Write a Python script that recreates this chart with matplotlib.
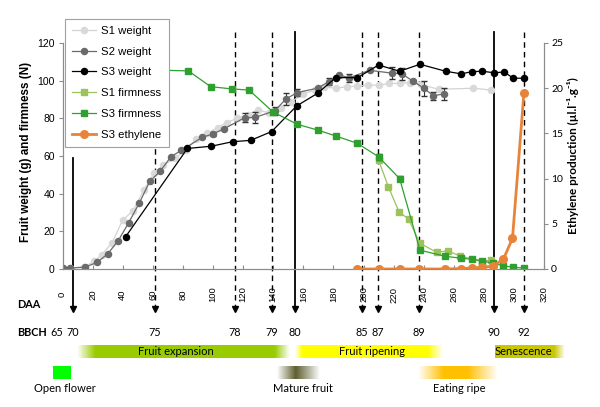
import numpy as np
import matplotlib
matplotlib.use('Agg')
import matplotlib.pyplot as plt
from matplotlib.colors import to_rgb

plt.rcParams['font.family'] = ['Liberation Sans', 'DejaVu Sans']
CAL = ['Lato', 'DejaVu Sans']

# ---- data ----
s1w_daa = [0, 5, 14, 21, 26, 33, 40, 47, 54, 61, 67, 75, 82, 89, 96, 103, 109, 116, 123, 130,
           137, 145, 152, 160, 168, 174, 182, 189, 196, 203, 210, 217, 224, 231, 238, 250, 273, 285]
s1w_val = [0.5, 0.5, 1, 4, 7.5, 14, 26, 31, 42, 51, 55, 59, 63, 69, 72, 75, 77.7, 80, 82, 84.4,
           83, 85.7, 88.8, 93, 95, 96.5, 96, 96.8, 97.2, 97.7, 97.5, 98.6, 98.5, 99, 98, 95.4, 96, 95]

s2w_daa = [0, 5, 15, 23, 30, 37, 44, 51, 58, 65, 72, 79, 93, 100, 107, 121, 128, 141, 148.5, 156,
           169.5, 177, 184, 190.5, 204, 219, 225.5, 233, 240, 246.5, 253.5]
s2w_val = [0.5, 0.5, 1, 3.5, 8, 15, 24.6, 35, 46.5, 52, 59.6, 63, 70, 71.7, 74.3, 80.3, 80.5, 84,
           90.3, 93.7, 96, 99.5, 103, 101.5, 105.5, 104, 103.6, 99.7, 96, 92, 93]
s2w_err = [0, 0, 0, 0, 0, 0, 0, 0, 0, 0, 0, 0, 0, 1, 0, 2.5, 3, 2, 3, 2,
           0, 2, 0, 2, 0, 3, 3, 0, 4, 2, 3]

s3w_daa = [42, 83, 99, 113, 125, 139, 155.6, 169.5, 181.5, 196, 210, 224, 237.5, 254.6, 265,
           272, 279, 286.7, 293.5, 299.5, 306.6]
s3w_val = [17.2, 64, 65.2, 67.6, 68.3, 73, 86.6, 93.3, 101.6, 101.6, 108.3, 105, 108.7, 105,
           103.6, 104.8, 105, 104.2, 104.6, 101.3, 101.3]

s1f_daa = [210, 216.5, 223.6, 230, 237.5, 248.6, 256, 264, 278.5, 285]
s1f_val = [57.9, 43.7, 30.4, 26.4, 13.6, 8.9, 9.6, 7, 3.9, 4.8]

s3f_daa = [42, 83.6, 98.5, 112.8, 124, 139.7, 156, 169.5, 181.7, 196, 210, 224, 237.5, 254,
           265, 272, 279, 286, 293, 299.5, 306.7]
s3f_val = [106, 105.2, 96.8, 95.6, 95, 83.5, 76.8, 73.8, 70.6, 66.7, 59.6, 48, 10, 6.8,
           5.7, 5.2, 4.4, 3.0, 1.7, 0.9, 0.5]
s3f_err = [0, 0, 0, 0, 0, 0, 0, 0, 0, 0, 1.5, 1.5, 0, 0, 0, 0, 0, 0, 0, 0, 0]

eth_daa = [196, 210, 224, 237, 254, 265, 272, 279, 286, 293, 299, 306.6]
eth_val = [0, 0, 0, 0, 0, 0.05, 0.1, 0.2, 0.3, 1.1, 3.4, 19.5]

# BBCH stages (DAA where the arrows are)
stage_daa = [7, 61.5, 114.6, 139, 154.5, 198.8, 209.8, 237, 286.7, 306.6]
stage_bbch = ['70', '75', '78', '79', '80', '85', '87', '89', '90', '92']
stage_solid = [True, False, False, False, True, False, False, False, True, False]

# developmental phases (DAA range, fade in/out)
phase_names = ['Fruit expansion', 'Fruit ripening', 'Senescence']
phase_range = [(9.6, 151), (154.5, 252.8), (287.4, 333.9)]
phase_fade = [(12, 10), (5, 10), (0, 7)]
phase_colors = ['#99cc00', '#ffff00', '#c8c800']
phase_text = [75.5, 205.6, 306]

event_names = ['Open flower', 'Mature fruit', 'Eating ripe']
event_range = [(-6.3, 5), (142.5, 171), (236, 288.7)]
event_fade = [(0, 0), (12.5, 16), (17, 20)]
event_colors = ['#00ff00', '#5e5e30', '#ffc000']
event_text = [1.7, 160, 263.5]


def gradient_bar(ax, x0, x1, y0, y1, color, fade_in, fade_out):
    xs = np.linspace(x0, x1, 300)
    a = np.ones_like(xs)
    if fade_in > 0:
        a = np.minimum(a, (xs - x0) / fade_in)
    if fade_out > 0:
        a = np.minimum(a, (x1 - xs) / fade_out)
    img = np.zeros((1, 300, 4))
    img[..., :3] = to_rgb(color)
    img[..., 3] = np.clip(a, 0, 1)
    ax.imshow(img, extent=[x0, x1, y0, y1], aspect='auto', interpolation='nearest',
              clip_on=False, zorder=1)


fig = plt.figure(figsize=(6, 4.07), dpi=100)
ax = fig.add_axes([62.5 / 600, (407 - 269) / 407, 481.6 / 600, 226 / 407])
ax2 = ax.twinx()

grey = '#8c8c8c'

# vertical stage lines with arrows
for d, solid in zip(stage_daa, stage_solid):
    top = 59 if d < 20 else 125.9
    ax.plot([d, d], [top, -19.5], color='black', lw=1.3 if solid else 1.0,
            ls='-' if solid else (0, (4, 3)), clip_on=False, zorder=2)
    ax.plot(d, -21.5, marker='v', color='black', ms=5, clip_on=False, zorder=2)

# series
l1, = ax.plot(s1w_daa, s1w_val, '-o', color='#d3d3d3', mfc='#d9d9d9', mec='#d9d9d9',
              ms=4.4, lw=0.9, zorder=3)
eb2 = ax.errorbar(s2w_daa, s2w_val, yerr=s2w_err, fmt='-o', color='#6a6a6a', ms=4.4, lw=0.9,
                  ecolor='#333333', elinewidth=0.8, capsize=2, zorder=4)
l3, = ax.plot(s3w_daa, s3w_val, '-o', color='black', ms=4.4, lw=0.9, zorder=5)
l4, = ax.plot(s1f_daa, s1f_val, '-s', color='#9bc25b', ms=4, lw=0.9, zorder=4)
eb5 = ax.errorbar(s3f_daa, s3f_val, yerr=s3f_err, fmt='-s', color='#2fa02f', ms=4, lw=0.9,
                  ecolor='#222222', elinewidth=0.8, capsize=2, zorder=5)
l6, = ax2.plot(eth_daa, eth_val, '-o', color='#e8843a', ms=5.5, lw=2, zorder=5)

# phase bars and events below the axis
for name, (x0, x1), (fi, fo), c, tx in zip(phase_names, phase_range, phase_fade,
                                           phase_colors, phase_text):
    gradient_bar(ax, x0, x1, -47.3, -40.4, c, fi, fo)
    ax.text(tx, -43.9, name, ha='center', va='center', fontsize=8, family=CAL)

for name, (x0, x1), (fi, fo), c, tx in zip(event_names, event_range, event_fade,
                                           event_colors, event_text):
    gradient_bar(ax, x0, x1, -58.4, -51.5, c, fi, fo)
    ax.text(tx, -63.2, name, ha='center', va='center', fontsize=8, family=CAL)

ax.text(-30.2, -18.6, 'DAA', ha='left', va='center', fontsize=7.8, weight='bold', family=CAL)
ax.text(-30.2, -33.5, 'BBCH', ha='left', va='center', fontsize=7.8, weight='bold', family=CAL)
ax.text(-3.7, -33.5, '65', ha='center', va='center', fontsize=7.8, family=CAL)
for d, b in zip(stage_daa, stage_bbch):
    ax.text(d, -33.5, b, ha='center', va='center', fontsize=7.8, family=CAL)

# axes styling
ax.set_xlim(0, 320)
ax.set_ylim(0, 120)
ax2.set_ylim(0, 25)
ax.set_xticks(range(0, 321, 20))
ax.set_xticklabels([str(v) for v in range(0, 321, 20)], rotation=90, fontsize=6.8)
for t in ax.get_xticklabels():
    t.set_va('center')
ax.tick_params(axis='x', direction='in', length=3, pad=18.4, colors=grey, labelcolor='black')
ax.set_yticks(range(0, 121, 20))
ax.tick_params(axis='y', direction='out', length=3, pad=2.5, labelsize=7.5, colors=grey,
               labelcolor='black')
ax2.set_yticks(range(0, 26, 5))
ax2.tick_params(axis='y', direction='out', length=3, pad=2, labelsize=7.5, colors=grey,
                labelcolor='black')
for t in ax2.get_yticklabels():
    t.set_family(CAL)

for a in (ax, ax2):
    a.spines['top'].set_visible(False)
    for s in ('left', 'right', 'bottom'):
        a.spines[s].set_color(grey)
        a.spines[s].set_linewidth(0.8)
    a.patch.set_visible(False)

ax.set_ylabel('Fruit weight (g) and firmness (N)', fontsize=8.4, weight='bold')
ax.yaxis.set_label_coords(-0.063, 0.518)
ax2.set_ylabel('Ethylene production (µl.l⁻¹.g⁻¹)', fontsize=8.5, weight='bold', family=CAL)
ax2.yaxis.set_label_coords(1.0475, 0.5)

leg = ax2.legend([l1, eb2.lines[0], l3, l4, eb5.lines[0], l6],
                 ['S1 weight', 'S2 weight', 'S3 weight', 'S1 firmness', 'S3 firmness',
                  'S3 ethylene'],
                 loc='upper left', bbox_to_anchor=(65 / 600, 1 - 19 / 407),
                 bbox_transform=fig.transFigure, borderaxespad=0, fontsize=8.2,
                 fancybox=False, edgecolor='#a0a0a0', framealpha=1, handlelength=2.1,
                 handletextpad=0.5, labelspacing=0.95, borderpad=0.6)
leg.get_frame().set_linewidth(0.8)
leg.set_zorder(10)

fig.savefig('out.png', dpi=100)
